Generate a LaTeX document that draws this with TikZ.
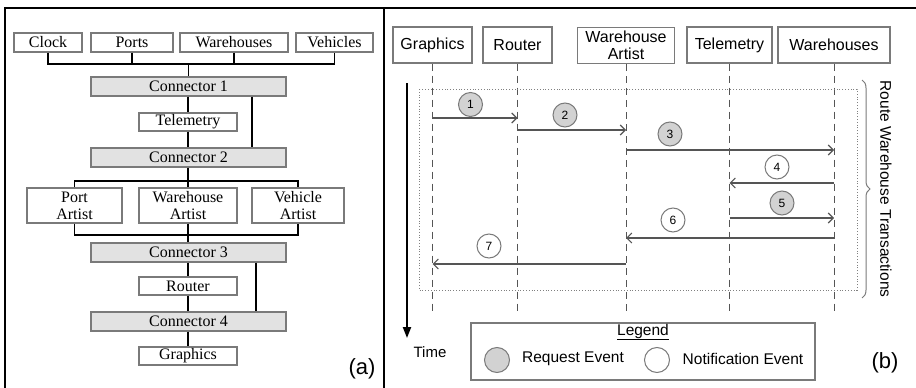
\documentclass[tikz,border=0pt]{standalone}
\usepackage{fontspec}
\setmainfont{Liberation Serif}
\newfontfamily\arialf{Liberation Sans}
\usetikzlibrary{arrows.meta,decorations.pathreplacing}
\definecolor{boxgray}{HTML}{7A7A7A}
\definecolor{confill}{HTML}{E2E2E2}
\definecolor{reqfill}{HTML}{D2D2D2}
\definecolor{lifegray}{HTML}{555555}
\tikzset{
  lbox/.style={draw=boxgray,line width=1.1pt,fill=white,inner sep=0pt,font=\fontsize{16}{17}\selectfont,align=center},
  conbox/.style={lbox,fill=confill,minimum width=195,minimum height=19},
  wire/.style={line width=1.8pt,black},
  rbox/.style={draw=boxgray,line width=1.1pt,fill=white,inner sep=0pt,minimum height=36,font=\arialf\fontsize{16}{16}\selectfont,align=center},
  lifeline/.style={lifegray,line width=1pt,dash pattern=on 7pt off 5pt},
  msg/.style={lifegray,line width=1.1pt,-{Straight Barb[length=5pt,width=10pt]}},
  evreq/.style={circle,draw=boxgray,line width=1pt,fill=reqfill,minimum size=24,inner sep=0pt,font=\arialf\fontsize{12}{12}\selectfont},
  evnot/.style={evreq,fill=white},
  rtext/.style={font=\arialf\fontsize{15.5}{17}\selectfont,inner sep=0pt}
}
\begin{document}
\begin{tikzpicture}[x=1pt,y=-1pt]
\useasboundingbox (0,0) rectangle (916,388);
% frame
\coordinate (fbl) at (5,388);
\coordinate (ftl) at (5,8);
\coordinate (ftr) at (916,8);
\coordinate (dtop) at (384,8);
\coordinate (dbot) at (384,388);
\draw[line width=2.6pt,line cap=rect] (fbl) -- (ftl) -- (ftr);
\draw[line width=2.6pt] (dtop) -- (dbot);

% ---------------- panel (a) ----------------
\node[lbox,minimum width=68,minimum height=19] (clock) at (48,42.5) {Clock};
\node[lbox,minimum width=82,minimum height=19] (ports) at (132,42.5) {Ports};
\node[lbox,minimum width=108,minimum height=19] (whs) at (234,42.5) {Warehouses};
\node[lbox,minimum width=77,minimum height=19] (veh) at (334.5,42.5) {Vehicles};
\node[conbox] (c1) at (188.5,86.5) {Connector 1};
\node[lbox,minimum width=98,minimum height=18] (tel) at (188,122) {Telemetry};
\node[conbox] (c2) at (188.5,157.5) {Connector 2};
\node[lbox,minimum width=95,minimum height=35] (pa) at (74.5,205.5) {Port\\Artist};
\node[lbox,minimum width=98,minimum height=35] (wa) at (188,205.5) {Warehouse\\Artist};
\node[lbox,minimum width=92,minimum height=35] (va) at (298,205.5) {Vehicle\\Artist};
\node[conbox] (c3) at (188.5,252.5) {Connector 3};
\node[lbox,minimum width=98,minimum height=18] (rt) at (188,286) {Router};
\node[conbox] (c4) at (188.5,321.5) {Connector 4};
\node[lbox,minimum width=98,minimum height=18] (gr) at (188,356) {Graphics};
\node[font=\arialf\fontsize{22}{24}\selectfont,inner sep=0pt] (la) at (362,369) {(a)};

\coordinate (bus1) at (0,64);
\coordinate (bus2) at (0,181);
\coordinate (bus3) at (0,235);
\coordinate (s1) at (252,0);
\coordinate (s2) at (256,0);
\begin{scope}[wire]
\draw (clock.south) -- (clock.south |- bus1) -- (veh.south |- bus1) -- (veh.south);
\draw (ports.south) -- (ports.south |- bus1);
\draw (whs.south) -- (whs.south |- bus1);
\draw (c1.north |- bus1) -- (c1.north);
\draw (c1.south -| tel.north) -- (tel.north);
\draw (tel.south) -- (c2.north -| tel.south);
\draw (s1 |- c1.south) -- (s1 |- c2.north);
\draw (c2.south -| wa.north) -- (wa.north |- bus2);
\draw (pa.north) -- (pa.north |- bus2) -- (va.north |- bus2) -- (va.north);
\draw (wa.north |- bus2) -- (wa.north);
\draw (pa.south) -- (pa.south |- bus3) -- (va.south |- bus3) -- (va.south);
\draw (wa.south) -- (c3.north -| wa.south);
\draw (c3.south -| rt.north) -- (rt.north);
\draw (rt.south) -- (c4.north -| rt.south);
\draw (s2 |- c3.south) -- (s2 |- c4.north);
\draw (c4.south -| gr.north) -- (gr.north);
\end{scope}

% ---------------- panel (b) ----------------
\node[rbox,minimum width=79] (bg) at (432.5,45) {Graphics};
\node[rbox,minimum width=69] (br) at (517.5,45) {Router};
\node[rbox,minimum width=97] (bw) at (626,45.5) {};
\node[rtext,font=\arialf\fontsize{16}{16.5}\selectfont,align=center] (bwt) at (bw.center) {Warehouse\\Artist};
\node[rbox,minimum width=85] (bt) at (729.5,45) {Telemetry};
\node[rbox,minimum width=112] (bh) at (834,45) {Warehouses};

\coordinate (lend) at (0,312);
\foreach \n in {bg,br,bw,bt,bh}{
  \draw[lifeline] (\n.south) -- (\n.south |- lend);
}

% dotted transaction box
\coordinate (dtl) at (419,89);
\coordinate (dbr) at (857,290);
\draw[gray,line width=0.8pt,dotted] (dtl) rectangle (dbr);

% brace + label
\coordinate (brt) at (862,80);
\coordinate (brb) at (862,298);
\draw[boxgray,line width=1pt,decorate,decoration={brace,amplitude=8pt}] (brt) -- (brb);
\node[rtext,rotate=-90] (rwt) at (886,189) {Route Warehouse Transactions};

% time arrow
\coordinate (tt) at (407,83);
\coordinate (tb) at (407,338);
\draw[line width=2pt,-{Triangle[length=11pt,width=8pt]}] (tt) -- (tb);
\node[rtext,font=\arialf\fontsize{15}{16}\selectfont] (time) at (430,352) {Time};

% messages
\coordinate (y1) at (0,118);
\coordinate (y2) at (0,130);
\coordinate (y3) at (0,150);
\coordinate (y4) at (0,183);
\coordinate (y5) at (0,218);
\coordinate (y6) at (0,238);
\coordinate (y7) at (0,264);
\draw[msg] (bg |- y1) -- (br |- y1);
\draw[msg] (br |- y2) -- (bw |- y2);
\draw[msg] (bw |- y3) -- (bh |- y3);
\draw[msg] (bh |- y4) -- (bt |- y4);
\draw[msg] (bt |- y5) -- (bh |- y5);
\draw[msg] (bh |- y6) -- (bw |- y6);
\draw[msg] (bw |- y7) -- (bg |- y7);
\node[evreq] (e1) at (470.5,104.5) {1};
\node[evreq] (e2) at (565,115) {2};
\node[evreq] (e3) at (670,134) {3};
\node[evnot] (e4) at (777,167) {4};
\node[evreq] (e5) at (782,203) {5};
\node[evnot] (e6) at (673,220) {6};
\node[evnot] (e7) at (489,246) {7};

% legend
\node[draw=boxgray,line width=1.1pt,minimum width=344,minimum height=57,inner sep=0pt] (leg) at (643,351.5) {};
\node[rtext] (legt) at (643,332) {\underline{Legend}};
\node[evreq,minimum size=25] (lr) at (497,360) {};
\node[rtext] (lrt) at (573,359) {Request Event};
\node[evnot,minimum size=25] (ln) at (657,360) {};
\node[rtext] (lnt) at (743,359) {Notification Event};
\node[font=\arialf\fontsize{22}{24}\selectfont,inner sep=0pt] (lb) at (885,363) {(b)};
\end{tikzpicture}
\end{document}
